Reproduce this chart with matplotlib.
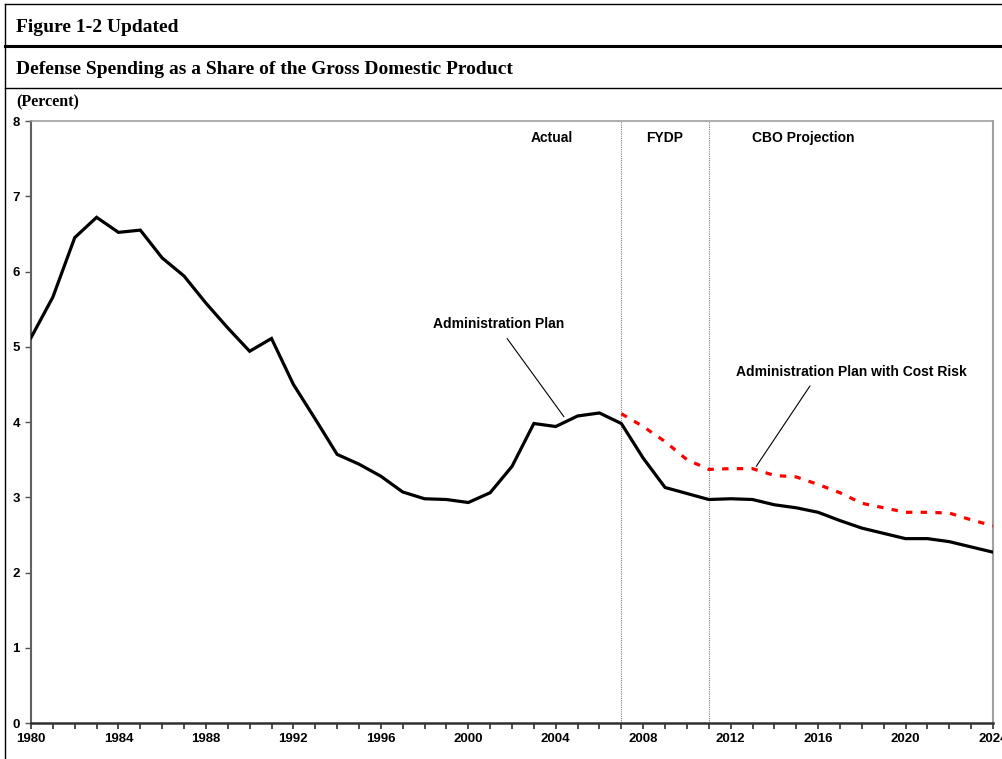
import numpy as np
import matplotlib
matplotlib.use("Agg")
import matplotlib.pyplot as plt
from matplotlib import rcParams
from matplotlib.lines import Line2D
from matplotlib.ticker import MultipleLocator

rcParams['font.family'] = 'Liberation Sans'
rcParams['font.weight'] = 'bold'

years = list(range(1980, 2025))
admin_plan = [5.12, 5.66, 6.45, 6.72, 6.52, 6.55, 6.18, 5.94, 5.58, 5.25,
              4.94, 5.11, 4.50, 4.04, 3.57, 3.44, 3.28, 3.07, 2.98, 2.97,
              2.93, 3.06, 3.41, 3.98, 3.94, 4.08, 4.12, 3.98, 3.52, 3.13,
              3.05, 2.97, 2.98, 2.97, 2.90, 2.86, 2.80, 2.69, 2.59, 2.52,
              2.45, 2.45, 2.41, 2.34, 2.27]
risk_years = list(range(2007, 2025))
cost_risk = [4.11, 3.94, 3.74, 3.50, 3.37, 3.38, 3.38, 3.29, 3.27, 3.17,
             3.06, 2.92, 2.86, 2.80, 2.80, 2.79, 2.70, 2.62]
period_breaks = [2007, 2011]
period_labels = ["Actual", "FYDP", "CBO Projection"]
period_x = [2003.8, 2009.0, 2015.3]

fig = plt.figure(figsize=(10.03, 7.59), dpi=100)

# frame and header rules
fig.add_artist(Line2D([0.0045, 0.0045], [0, 0.995], color='black', lw=1.0, transform=fig.transFigure))
fig.add_artist(Line2D([0.0045, 1], [0.995, 0.995], color='black', lw=1.0, transform=fig.transFigure))
fig.add_artist(Line2D([0.0045, 1], [1 - 46/759, 1 - 46/759], color='black', lw=2.2, transform=fig.transFigure))
fig.add_artist(Line2D([0.0045, 1], [1 - 88/759, 1 - 88/759], color='black', lw=1.0, transform=fig.transFigure))

fig.text(16/1003, 1 - 27/759, "Figure 1-2 Updated", family='Liberation Serif',
         fontsize=14, fontweight='bold', va='center', ha='left')
fig.text(16/1003, 1 - 69/759, "Defense Spending as a Share of the Gross Domestic Product",
         family='Liberation Serif', fontsize=14, fontweight='bold', va='center', ha='left')
fig.text(16/1003, 1 - 102/759, "(Percent)", family='Liberation Serif',
         fontsize=11.5, fontweight='bold', va='center', ha='left')

ax = fig.add_axes([31/1003, 1 - 723/759, (993 - 31)/1003, (723 - 121)/759])

ax.plot(years, admin_plan, color='black', lw=2.3, solid_joinstyle='miter', zorder=3)
ax.plot(risk_years, cost_risk, color='#ff0000', lw=2.3, linestyle=(0, (2, 2.6)), zorder=3)

for b in period_breaks:
    ax.axvline(b, color='#808080', lw=0.8, linestyle=(0, (1, 1)), zorder=1)

for lab, x in zip(period_labels, period_x):
    ax.text(x, 7.78, lab, ha='center', va='center', fontsize=10, fontweight='bold')

ax.text(2001.4, 5.30, "Administration Plan", ha='center', va='center', fontsize=10, fontweight='bold')
ax.annotate('', xy=(2004.45, 4.04), xytext=(2001.7, 5.14),
            arrowprops=dict(arrowstyle='-', color='black', lw=0.8))
ax.text(2017.5, 4.67, "Administration Plan with Cost Risk", ha='center', va='center',
        fontsize=10, fontweight='bold')
ax.annotate('', xy=(2013.1, 3.38), xytext=(2015.7, 4.51),
            arrowprops=dict(arrowstyle='-', color='black', lw=0.8))

ax.set_xlim(1980, 2024)
ax.set_ylim(0, 8)
ax.xaxis.set_major_locator(MultipleLocator(4))
ax.xaxis.set_minor_locator(MultipleLocator(1))
ax.yaxis.set_major_locator(MultipleLocator(1))
ax.tick_params(axis='x', which='both', direction='out', length=4, width=1.2, color='#303030',
               labelsize=9.5, pad=3)
ax.tick_params(axis='y', direction='out', length=4, width=1.0, color='#505050', labelsize=9.5, pad=4)
for t in ax.get_xticklabels() + ax.get_yticklabels():
    t.set_fontweight('bold')

ax.spines['left'].set_color('#606060')
ax.spines['left'].set_linewidth(1.5)
ax.spines['bottom'].set_color('#303030')
ax.spines['bottom'].set_linewidth(1.8)
ax.spines['top'].set_color('#a0a0a0')
ax.spines['top'].set_linewidth(1.2)
ax.spines['right'].set_color('#a0a0a0')
ax.spines['right'].set_linewidth(1.5)

fig.savefig("out.png", dpi=100)
